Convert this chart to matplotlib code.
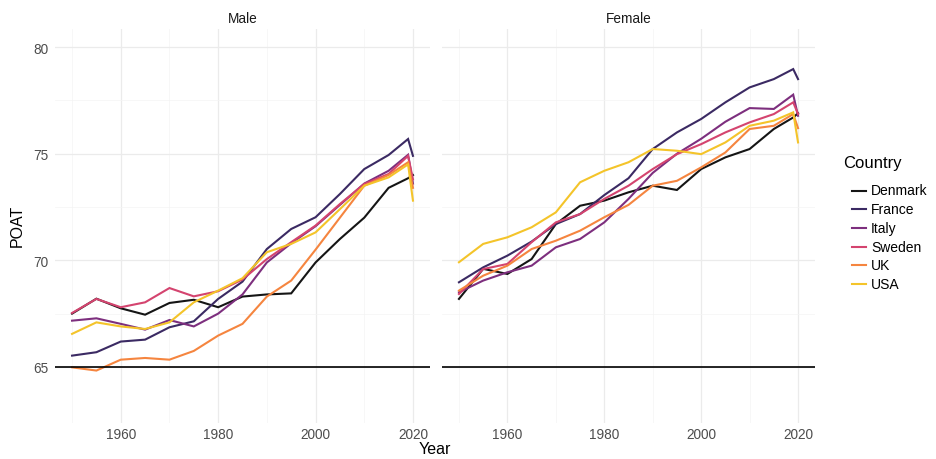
import matplotlib
matplotlib.use("Agg")
import matplotlib.pyplot as plt
from matplotlib.lines import Line2D

plt.rcParams['font.family'] = ['Liberation Sans', 'DejaVu Sans']

years = [1950, 1955, 1960, 1965, 1970, 1975, 1980, 1985, 1990, 1995,
         2000, 2005, 2010, 2015, 2019, 2020]
countries = ['Denmark', 'France', 'Italy', 'Sweden', 'UK', 'USA']
colors = ['#151515', '#3b2a63', '#7d2f7e', '#d4446f', '#f5853f', '#f4c42a']

# POAT by sex
male = {
    'Denmark': [67.5, 68.2, 67.75, 67.45, 68.0, 68.15, 67.8, 68.3, 68.4, 68.45,
                69.9, 71.0, 72.0, 73.4, 73.85, 74.0],
    'France': [65.53, 65.69, 66.19, 66.28, 66.86, 67.14, 68.19, 69.0, 70.53, 71.47,
               72.02, 73.11, 74.28, 74.94, 75.69, 74.9],
    'Italy': [67.17, 67.28, 67.02, 66.75, 67.2, 66.9, 67.5, 68.4, 69.9, 70.8,
              71.6, 72.6, 73.6, 74.2, 74.95, 73.6],
    'Sweden': [67.53, 68.19, 67.8, 68.03, 68.7, 68.31, 68.55, 69.1, 70.06, 70.85,
               71.63, 72.64, 73.58, 74.05, 74.9, 73.8],
    'UK': [64.98, 64.83, 65.34, 65.42, 65.34, 65.75, 66.47, 67.02, 68.3, 69.05,
           70.5, 72.0, 73.5, 74.0, 74.6, 73.4],
    'USA': [66.55, 67.09, 66.9, 66.78, 67.09, 68.03, 68.58, 69.16, 70.38, 70.77,
            71.31, 72.4, 73.5, 73.89, 74.5, 72.8],
}
female = {
    'Denmark': [68.19, 69.6, 69.36, 70.06, 71.7, 72.56, 72.8, 73.19, 73.5, 73.3,
                74.28, 74.83, 75.22, 76.16, 76.7, 76.9],
    'France': [68.97, 69.67, 70.22, 70.88, 71.7, 72.17, 73.06, 73.85, 75.22, 76.0,
               76.63, 77.41, 78.11, 78.5, 78.97, 78.5],
    'Italy': [68.5, 69.05, 69.44, 69.75, 70.61, 71.0, 71.78, 72.88, 74.1, 75.0,
              75.7, 76.5, 77.14, 77.1, 77.77, 76.78],
    'Sweden': [68.42, 69.59, 69.83, 70.85, 71.78, 72.17, 72.88, 73.5, 74.28, 74.98,
               75.45, 76.0, 76.47, 76.86, 77.41, 76.86],
    'UK': [68.58, 69.28, 69.75, 70.53, 70.92, 71.39, 72.02, 72.6, 73.5, 73.73,
           74.36, 75.06, 76.16, 76.31, 76.86, 76.2],
    'USA': [69.91, 70.77, 71.08, 71.55, 72.25, 73.66, 74.2, 74.6, 75.22, 75.14,
            74.98, 75.53, 76.31, 76.55, 76.94, 75.53],
}
panels = [('Male', male), ('Female', female)]
threshold = 65
xticks = [1960, 1980, 2000, 2020]
yticks = [65, 70, 75, 80]

W, H = 936, 460
fig = plt.figure(figsize=(W / 100, H / 100), dpi=100)
boxes = [(55, 430), (442, 815)]
top_px, bot_px = 30, 424

for i, ((title, data), (l, r)) in enumerate(zip(panels, boxes)):
    ax = fig.add_axes([l / W, 1 - bot_px / H, (r - l) / W, (bot_px - top_px) / H])
    for c, col in zip(countries, colors):
        ax.plot(years, data[c], color=col, lw=1.5, solid_joinstyle='miter')
    ax.axhline(threshold, color='black', lw=1.2)
    ax.set_xlim(1946.5, 2023.5)
    ax.set_ylim(62.37, 80.85)
    ax.set_xticks(xticks)
    ax.set_xticks([1950, 1970, 1990, 2010], minor=True)
    ax.set_yticks(yticks)
    ax.set_yticks([67.5, 72.5, 77.5], minor=True)
    ax.grid(which='major', color='#ebebeb', lw=0.9)
    ax.grid(which='minor', color='#f4f4f4', lw=0.5)
    ax.set_axisbelow(True)
    for s in ax.spines.values():
        s.set_visible(False)
    ax.tick_params(which='both', length=0, labelsize=9.8, labelcolor='#4d4d4d')
    ax.tick_params(axis='x', pad=3)
    ax.tick_params(axis='y', pad=5)
    if i > 0:
        ax.set_yticklabels([])
    fig.text((l + r) / 2 / W, 1 - 19 / H, title, ha='center', va='center',
             fontsize=9.8, color='#1a1a1a')

fig.text(435 / W, 1 - 450 / H, 'Year', ha='center', va='center', fontsize=11.5)
fig.text(17 / W, 1 - 226 / H, 'POAT', ha='center', va='center', fontsize=11.5,
         rotation=90)

# legend
fig.text(843 / W, 1 - 164 / H, 'Country', ha='left', va='center', fontsize=12)
for k, (c, col) in enumerate(zip(countries, colors)):
    y = 1 - (191.5 + k * 18.7) / H
    fig.add_artist(Line2D([852 / W, 866 / W], [y, y], color=col, lw=1.5,
                          transform=fig.transFigure))
    fig.text(871 / W, y, c, ha='left', va='center', fontsize=10)

fig.savefig('out.png', dpi=100, facecolor='white')
